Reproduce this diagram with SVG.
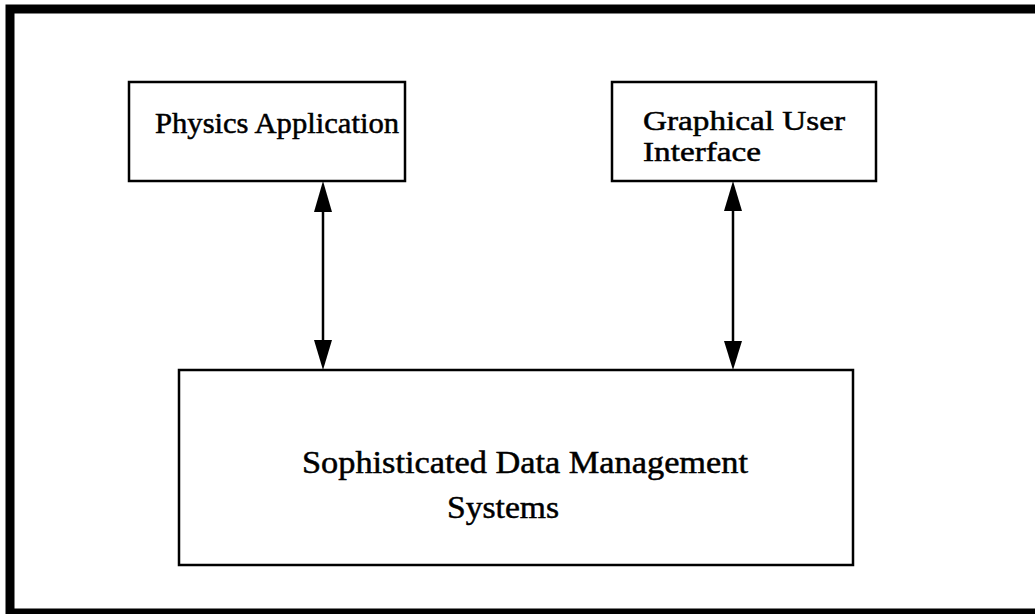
<svg xmlns="http://www.w3.org/2000/svg" width="1035" height="614" viewBox="0 0 1035 614">
<style>
.box{fill:#fff;stroke:#000;stroke-width:2.5}
.lbl{font-family:"Liberation Serif","DejaVu Serif",serif;font-size:29px;fill:#000;stroke:#000;stroke-width:0.5}
.stem{stroke:#000;stroke-width:2.5;fill:none}
.head{fill:#000}
</style>
<rect width="1035" height="614" fill="#fff"/>
<g id="frame" fill="none" stroke="#000">
<path d="M10 614 V9 H1035" stroke-width="9"/>
<path d="M6 611.5 H1035" stroke-width="6"/>
</g>
<g id="physics">
<rect class="box" x="129" y="82" width="276" height="99"/>
<text class="lbl" x="155" y="133" textLength="244" lengthAdjust="spacingAndGlyphs">Physics Application</text>
</g>
<g id="gui">
<rect class="box" x="612" y="82" width="264" height="99"/>
<text class="lbl" x="643" y="130" style="font-size:28px" textLength="202" lengthAdjust="spacingAndGlyphs">Graphical User</text>
<text class="lbl" x="643" y="161" style="font-size:28px" textLength="118" lengthAdjust="spacingAndGlyphs">Interface</text>
</g>
<g id="sdms">
<rect class="box" x="179" y="370" width="674" height="195"/>
<text class="lbl" x="302" y="473" style="font-size:31px" textLength="446" lengthAdjust="spacingAndGlyphs">Sophisticated Data Management</text>
<text class="lbl" x="447" y="518" style="font-size:31px" textLength="112" lengthAdjust="spacingAndGlyphs">Systems</text>
</g>
<g id="connectors">
<line class="stem" x1="323" y1="205" x2="323" y2="345"/>
<polygon class="head" points="323,181 314,212 332,212"/>
<polygon class="head" points="323,370 314,340 332,340"/>
<line class="stem" x1="733" y1="205" x2="733" y2="345"/>
<polygon class="head" points="733,181 724,211 742,211"/>
<polygon class="head" points="733,370 724,341 742,341"/>
</g>
</svg>
